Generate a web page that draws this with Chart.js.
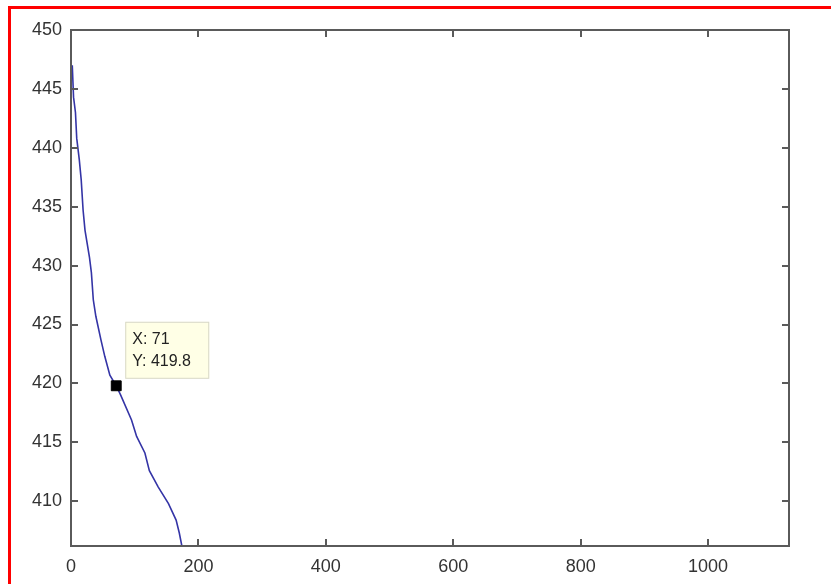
<!DOCTYPE html>
<html>
<head>
<meta charset="utf-8">
<script src="https://cdn.jsdelivr.net/npm/chart.js@4.4.1/dist/chart.umd.min.js"></script>
<style>
  html, body { margin: 0; padding: 0; background: #fff; overflow: hidden; }
  #wrap { position: relative; width: 831px; height: 584px; overflow: hidden; }
  .red { position: absolute; background: #ff0000; pointer-events: none; }
  #redLeft { left: 8px; top: 6px; width: 3px; height: 578px; }
  #redTop { left: 8px; top: 6px; width: 823px; height: 3px; }
  canvas { position: absolute; left: 0; top: 0; }
</style>
</head>
<body>
<div id="wrap">
  <canvas id="chart" width="831" height="584"></canvas>
  <div class="red" id="redLeft"></div>
  <div class="red" id="redTop"></div>
</div>
<script>
// values
const lineX = [2, 4, 7, 9, 13, 16, 19, 22, 29, 32, 35, 39, 47, 53, 61, 71, 78, 95, 103, 116, 123, 137, 153, 165, 170, 174, 180];
const lineY = [447.0, 444.3, 443.0, 440.8, 439.0, 437.3, 434.7, 433.0, 430.7, 429.4, 427.1, 425.7, 423.7, 422.3, 420.7, 419.8, 419.0, 416.9, 415.5, 414.1, 412.6, 411.2, 409.8, 408.4, 407.3, 406.2, 405.4];
const markX = 71;
const markY = 419.8;
const markLabels = ["X: 71", "Y: 419.8"];
const xTicks = [0, 200, 400, 600, 800, 1000];
const yTicks = [410, 415, 420, 425, 430, 435, 440, 445, 450];
const xRange = [0, 1127];
const yRange = [406.2, 450];

const axisColor = "#5a5a5a";
const tickFont = { family: "'Liberation Sans', Arial, sans-serif", size: 18 };

// MATLAB style box with ticks pointing inward on all four sides
const boxPlugin = {
  id: "box",
  afterDatasetsDraw(chart) {
    const { ctx, chartArea: a, scales } = chart;
    const len = 7;
    ctx.save();
    ctx.strokeStyle = axisColor;
    ctx.lineWidth = 2;
    ctx.beginPath();
    xTicks.forEach((v) => {
      const px = Math.round(scales.x.getPixelForValue(v));
      ctx.moveTo(px, a.bottom);
      ctx.lineTo(px, a.bottom - len);
      ctx.moveTo(px, a.top);
      ctx.lineTo(px, a.top + len);
    });
    yTicks.forEach((v) => {
      const py = Math.round(scales.y.getPixelForValue(v));
      ctx.moveTo(a.left, py);
      ctx.lineTo(a.left + len, py);
      ctx.moveTo(a.right, py);
      ctx.lineTo(a.right - len, py);
    });
    ctx.stroke();
    ctx.strokeRect(a.left, a.top, a.right - a.left, a.bottom - a.top);
    ctx.restore();
  },
};

// data tip next to the marked point
const tipPlugin = {
  id: "tip",
  afterDraw(chart) {
    const { ctx, scales } = chart;
    const px = scales.x.getPixelForValue(markX);
    const py = scales.y.getPixelForValue(markY);
    const bx = px + 9;
    const by = py - 64;
    const bw = 84;
    const bh = 57;
    ctx.save();
    ctx.fillStyle = "#ffffe6";
    ctx.strokeStyle = "#d8d8c8";
    ctx.lineWidth = 1;
    ctx.fillRect(bx, by, bw, bh);
    ctx.strokeRect(bx + 0.5, by + 0.5, bw - 1, bh - 1);
    ctx.fillStyle = "#222";
    ctx.font = "16px 'Liberation Sans', Arial, sans-serif";
    ctx.textBaseline = "alphabetic";
    ctx.fillText(markLabels[0], bx + 7, by + 22);
    ctx.fillText(markLabels[1], bx + 7, by + 44);
    ctx.restore();
  },
};

new Chart(document.getElementById("chart"), {
  type: "scatter",
  data: {
    datasets: [
      {
        data: [{ x: markX, y: markY }],
        pointStyle: "rect",
        pointRadius: 7,
        backgroundColor: "#000",
        borderColor: "#000",
        order: 0,
      },
      {
        data: lineX.map((x, i) => ({ x, y: lineY[i] })),
        showLine: true,
        borderColor: "#3434a6",
        borderWidth: 1.6,
        pointRadius: 0,
        order: 1,
      },
    ],
  },
  options: {
    responsive: false,
    animation: false,
    layout: { padding: { top: 30, right: 42, left: 0, bottom: 0 } },
    plugins: { legend: { display: false }, tooltip: { enabled: false } },
    scales: {
      x: {
        type: "linear",
        min: xRange[0],
        max: xRange[1],
        afterBuildTicks: (s) => { s.ticks = xTicks.map((v) => ({ value: v })); },
        afterFit: (s) => { s.height = 38; },
        grid: { display: false },
        border: { display: false },
        ticks: { color: "#333", font: tickFont, padding: 2, maxRotation: 0, callback: (v) => String(v) },
      },
      y: {
        type: "linear",
        min: yRange[0],
        max: yRange[1],
        afterBuildTicks: (s) => { s.ticks = yTicks.map((v) => ({ value: v })); },
        afterFit: (s) => { s.width = 71; },
        grid: { display: false },
        border: { display: false },
        ticks: { color: "#333", font: tickFont, padding: 1, callback: (v) => String(v) },
      },
    },
  },
  plugins: [boxPlugin, tipPlugin],
});
</script>
</body>
</html>
